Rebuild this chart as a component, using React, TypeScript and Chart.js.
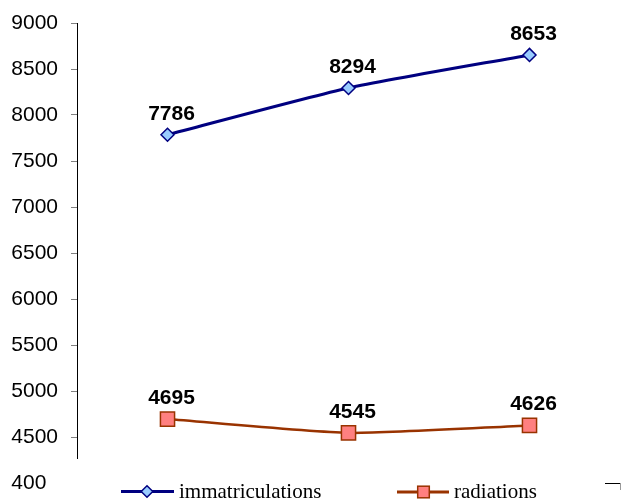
import React, { useEffect, useRef } from 'react';
import { Chart, registerables } from 'chart.js';

Chart.register(...registerables);

const categories = ['1', '2', '3'];
const immatriculations = [7786, 8294, 8653];
const radiations = [4695, 4545, 4626];
const seriesNames = ['immatriculations', 'radiations'];
const yMin = 4000;
const yMax = 9000;
const yStep = 500;

const SANS = '"Liberation Sans", Arial, sans-serif';
const SERIF = '"Liberation Serif", "Times New Roman", serif';

export default function App() {
  const ref = useRef<HTMLCanvasElement>(null);

  useEffect(() => {
    document.body.style.margin = '0';
    const canvas = ref.current;
    if (!canvas) return;

    const valueLabels = {
      id: 'valueLabels',
      afterDatasetsDraw(chart: any) {
        const ctx = chart.ctx;
        ctx.save();
        ctx.font = `bold 21px ${SANS}`;
        ctx.fillStyle = '#000';
        ctx.textAlign = 'center';
        ctx.textBaseline = 'alphabetic';
        chart.data.datasets.forEach((ds: any, i: number) => {
          chart.getDatasetMeta(i).data.forEach((pt: any, j: number) => {
            ctx.fillText(String(ds.data[j]), pt.x + 4, pt.y - 15);
          });
        });
        ctx.restore();
      },
    };

    const legendOverlay = {
      id: 'legendOverlay',
      afterDraw(chart: any) {
        const ctx = chart.ctx;
        ctx.save();
        // legend box background covering the bottom of the plot
        ctx.fillStyle = '#fff';
        ctx.fillRect(46, 459, chart.width - 46, chart.height - 459);
        // corner mark
        ctx.strokeStyle = '#000';
        ctx.lineWidth = 1;
        ctx.beginPath();
        ctx.moveTo(605, 483.5);
        ctx.lineTo(621, 483.5);
        ctx.stroke();
        ctx.strokeStyle = '#999';
        ctx.beginPath();
        ctx.moveTo(620.5, 483);
        ctx.lineTo(620.5, 490);
        ctx.stroke();

        const ds = chart.data.datasets;
        // item 1: immatriculations
        const y1 = 491.5;
        ctx.strokeStyle = ds[0].borderColor;
        ctx.lineWidth = 3;
        ctx.beginPath();
        ctx.moveTo(121, y1);
        ctx.lineTo(174, y1);
        ctx.stroke();
        ctx.beginPath();
        const cx = 147, r = 5.8;
        ctx.moveTo(cx, y1 - r);
        ctx.lineTo(cx + r, y1);
        ctx.lineTo(cx, y1 + r);
        ctx.lineTo(cx - r, y1);
        ctx.closePath();
        ctx.fillStyle = ds[0].pointBackgroundColor;
        ctx.fill();
        ctx.lineWidth = 1.5;
        ctx.strokeStyle = ds[0].pointBorderColor;
        ctx.stroke();

        // item 2: radiations
        const y2 = 492;
        ctx.strokeStyle = ds[1].borderColor;
        ctx.lineWidth = 3;
        ctx.beginPath();
        ctx.moveTo(397, y2);
        ctx.lineTo(449, y2);
        ctx.stroke();
        const sx = 423.5, s = 11.6;
        ctx.fillStyle = ds[1].pointBackgroundColor;
        ctx.fillRect(sx - s / 2, y2 - s / 2, s, s);
        ctx.lineWidth = 1.5;
        ctx.strokeStyle = ds[1].pointBorderColor;
        ctx.strokeRect(sx - s / 2, y2 - s / 2, s, s);

        ctx.fillStyle = '#000';
        ctx.font = `21px ${SERIF}`;
        ctx.textAlign = 'left';
        ctx.textBaseline = 'alphabetic';
        ctx.fillText(ds[0].label, 179, 498);
        ctx.fillText(ds[1].label, 454, 498);
        ctx.restore();
      },
    };

    const chart = new Chart(canvas, {
      type: 'line',
      data: {
        labels: categories,
        datasets: [
          {
            label: seriesNames[0],
            data: immatriculations,
            borderColor: '#000080',
            borderWidth: 3,
            pointStyle: 'rectRot',
            pointRadius: 6.5,
            pointBackgroundColor: '#99CCFF',
            pointBorderColor: '#000080',
            pointBorderWidth: 1.5,
            tension: 0.2,
            fill: false,
          },
          {
            label: seriesNames[1],
            data: radiations,
            borderColor: '#993300',
            borderWidth: 2.5,
            pointStyle: 'rect',
            pointRadius: 10,
            pointBackgroundColor: '#FF8080',
            pointBorderColor: '#993300',
            pointBorderWidth: 1.5,
            tension: 0.2,
            fill: false,
          },
        ],
      },
      options: {
        responsive: false,
        animation: false,
        layout: { autoPadding: false, padding: { left: 0, right: 2, top: 23, bottom: 18 } },
        plugins: {
          legend: { display: false },
          tooltip: { enabled: false },
        },
        scales: {
          x: { display: false, offset: true },
          y: {
            min: yMin,
            max: yMax,
            afterFit: (scale: any) => {
              scale.width = 77;
              scale.paddingTop = 0;
              scale.paddingBottom = 0;
            },
            ticks: {
              stepSize: yStep,
              color: '#000',
              padding: 13,
              font: { family: SANS, size: 21 },
              callback: (v: any) => String(v),
            },
            grid: {
              drawOnChartArea: false,
              drawTicks: true,
              tickLength: 6,
              color: '#808080',
            },
            border: { display: true, color: '#000', width: 1 },
          },
        },
      },
      plugins: [valueLabels, legendOverlay],
    });

    return () => chart.destroy();
  }, []);

  return (
    <div style={{ position: 'absolute', left: 0, top: 0, width: 622, height: 501 }}>
      <canvas ref={ref} width={622} height={501} />
    </div>
  );
}
